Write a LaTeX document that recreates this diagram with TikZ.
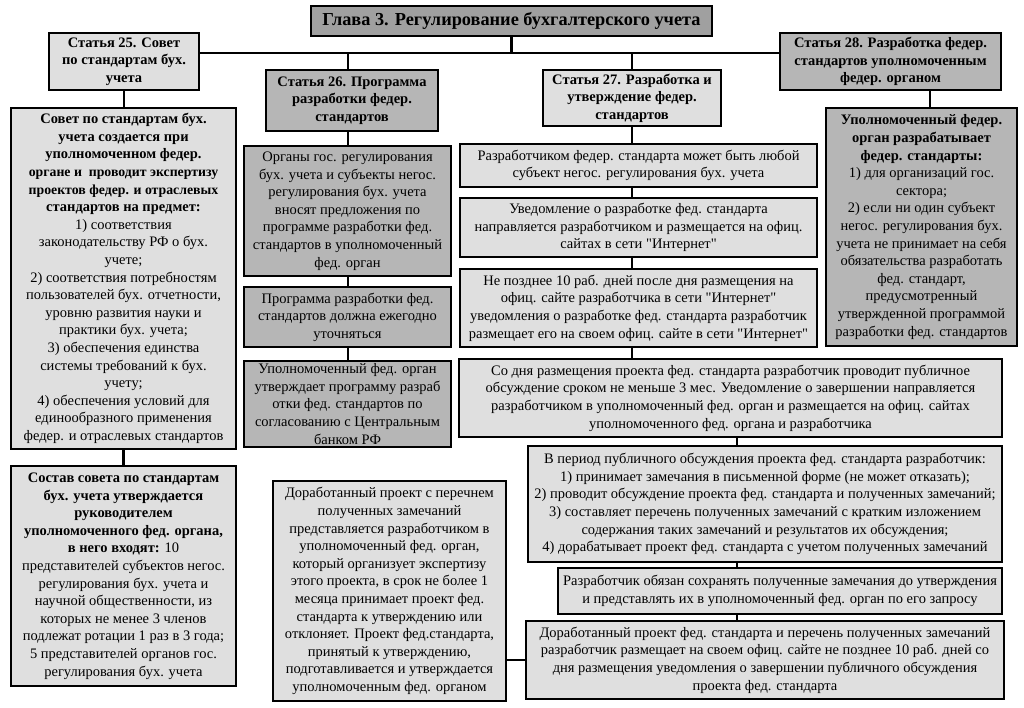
\documentclass[tikz,border=0pt]{standalone}
\usepackage{fontspec}
\setmainfont{Liberation Serif}[Ligatures=TeXOff]
\definecolor{lightg}{HTML}{DFDFDF}
\definecolor{darkg}{HTML}{B6B6B6}
\definecolor{titleg}{HTML}{A0A0A0}
\newcommand\nb[1]{{\fontsize{13.8}{17.6}\selectfont\textbf{#1}}}
\begin{document}
\begin{tikzpicture}[x=1pt,y=-1pt,
  bx/.style={draw=black, line width=2.6pt, align=center, inner sep=1pt, anchor=center,
             font=\fontsize{14.5}{17.6}\selectfont},
  lb/.style={bx, fill=lightg},
  db/.style={bx, fill=darkg},
  hd/.style={font=\fontsize{14.5}{17.5}\selectfont\bfseries},
  conn/.style={draw=black, line width=2.6pt}]
\useasboundingbox[fill=white] (0,0) rectangle (1024,708);

% headers
\node[bx, fill=titleg, minimum width=401pt, minimum height=30pt,
      font=\fontsize{18.3}{21}\selectfont\bfseries] (title) at (511.5,21)
  {Глава 3. Регулирование бухгалтерского учета};
\node[lb, hd, minimum width=150pt, minimum height=57pt] (s25) at (124,61.5)
  {Статья 25. Совет\\по стандартам бух.\\учета};
\node[db, hd, minimum width=172pt, minimum height=61pt] (s26) at (352,100.5)
  {Статья 26. Программа\\разработки федер.\\стандартов};
\node[lb, hd, minimum width=178pt, minimum height=56pt] (s27) at (632,98)
  {Статья 27. Разработка и\\утверждение федер.\\стандартов};
\node[db, hd, minimum width=221pt, minimum height=57pt] (s28) at (890.5,61.5)
  {Статья 28. Разработка федер.\\стандартов уполномоченным\\федер. органом};

% column 25
\node[lb, minimum width=225pt, minimum height=341pt] (a1) at (123.5,278.5)
  {\textbf{Совет по стандартам бух.}\\\textbf{учета создается при}\\\textbf{уполномоченном федер.}\\\nb{органе и\ \ проводит экспертизу}\\\nb{проектов федер. и отраслевых}\\\textbf{стандартов на предмет:}\\1) соответствия\\законодательству РФ о бух.\\учете;\\2) соответствия потребностям\\пользователей бух. отчетности,\\уровню развития науки и\\практики бух. учета;\\3) обеспечения единства\\системы требований к бух.\\учету;\\4) обеспечения условий для\\единообразного применения\\федер. и отраслевых стандартов};
\node[lb, minimum width=225pt, minimum height=220pt] (a2) at (123.5,576)
  {\textbf{Состав совета по стандартам}\\\textbf{бух. учета утверждается}\\\textbf{руководителем}\\\textbf{уполномоченного фед. органа,}\\\textbf{в него входят:} 10\\представителей субъектов негос.\\регулирования бух. учета и\\научной общественности, из\\которых не менее 3 членов\\подлежат ротации 1 раз в 3 года;\\5 представителей органов гос.\\регулирования бух. учета};

% column 26
\node[db, minimum width=207pt, minimum height=130pt] (b1) at (347.5,211)
  {Органы гос. регулирования\\бух. учета и субъекты негос.\\регулирования бух. учета\\вносят предложения по\\программе разработки фед.\\стандартов в уполномоченный\\фед. орган};
\node[db, minimum width=207pt, minimum height=60pt] (b2) at (347.5,317)
  {Программа разработки фед.\\стандартов должна ежегодно\\уточняться};
\node[db, minimum width=207pt, minimum height=86pt] (b3) at (347.5,404)
  {Уполномоченный фед. орган\\утверждает программу разраб\\отки фед. стандартов по\\согласованию с Центральным\\банком РФ};
\node[lb, minimum width=233pt, minimum height=220pt] (b4) at (389.5,591)
  {Доработанный проект с перечнем\\полученных замечаний\\представляется разработчиком в\\уполномоченный фед. орган,\\который организует экспертизу\\этого проекта, в срок не более 1\\месяца принимает проект фед.\\стандарта к утверждению или\\отклоняет. Проект фед.стандарта,\\принятый к утверждению,\\подготавливается и утверждается\\уполномоченным фед. органом};

% column 27
\node[lb, minimum width=357pt, minimum height=43pt] (c1) at (638.5,165.5)
  {Разработчиком федер. стандарта может быть любой\\субъект негос. регулирования бух. учета};
\node[lb, minimum width=357pt, minimum height=59pt] (c2) at (638.5,227.5)
  {Уведомление о разработке фед. стандарта\\направляется разработчиком и размещается на офиц.\\сайтах в сети "Интернет"};
\node[lb, minimum width=357pt, minimum height=78pt] (c3) at (638.5,308)
  {Не позднее 10 раб. дней после дня размещения на\\офиц. сайте разработчика в сети "Интернет"\\уведомления о разработке фед. стандарта разработчик\\размещает его на своем офиц. сайте в сети "Интернет"};
\node[lb, minimum width=543pt, minimum height=78pt] (c4) at (730.5,398)
  {Со дня размещения проекта фед. стандарта разработчик проводит публичное\\обсуждение сроком не меньше 3 мес. Уведомление о завершении направляется\\разработчиком в уполномоченный фед. орган и размещается на офиц. сайтах\\уполномоченного фед. органа и разработчика};
\node[lb, minimum width=474pt, minimum height=116pt] (c5) at (765,504)
  {В период публичного обсуждения проекта фед. стандарта разработчик:\\1) принимает замечания в письменной форме (не может отказать);\\2) проводит обсуждение проекта фед. стандарта и полученных замечаний;\\3) составляет перечень полученных замечаний с кратким изложением\\содержания таких замечаний и результатов их обсуждения;\\4) дорабатывает проект фед. стандарта с учетом полученных замечаний};
\node[lb, minimum width=444pt, minimum height=46pt] (c6) at (780,591)
  {Разработчик обязан сохранять полученные замечания до утверждения\\и представлять их в уполномоченный фед. орган по его запросу};
\node[lb, minimum width=478pt, minimum height=78pt] (c7) at (765,660)
  {Доработанный проект фед. стандарта и перечень полученных замечаний\\разработчик размещает на своем офиц. сайте не позднее 10 раб. дней со\\дня размещения уведомления о завершении публичного обсуждения\\проекта фед. стандарта};

% column 28
\node[db, minimum width=191pt, minimum height=238pt] (d1) at (921.5,227)
  {\textbf{Уполномоченный федер.}\\\textbf{орган разрабатывает}\\\textbf{федер. стандарты:}\\1) для организаций гос.\\сектора;\\2) если ни один субъект\\негос. регулирования бух.\\учета не принимает на себя\\обязательства разработать\\фед. стандарт,\\предусмотренный\\утвержденной программой\\разработки фед. стандартов};

% connectors
\coordinate (trunk) at (513,53);
\coordinate (x26) at (348,0);
\coordinate (x27) at (632,0);
\coordinate (x28) at (930,0);
\coordinate (x45) at (737,0);
\coordinate (yb4) at (0,660);
\draw[conn] (title.south) -- (title.south |- trunk);
\draw[conn] (s25.east |- trunk) -- (s28.west |- trunk);
\draw[conn] (s26.north -| x26) -- (trunk -| x26);
\draw[conn] (s27.north) -- (s27.north |- trunk);
\draw[conn] (s25.south) -- (a1.north -| s25.south);
\draw[conn] (a1.south) -- (a2.north);
\draw[conn] (s26.south -| x26) -- (b1.north -| x26);
\draw[conn] (b1.south -| x26) -- (b2.north -| x26);
\draw[conn] (b2.south -| x26) -- (b3.north -| x26);
\draw[conn] (s27.south) -- (c1.north -| s27.south);
\draw[conn] (c1.south -| x27) -- (c2.north -| x27);
\draw[conn] (c2.south -| x27) -- (c3.north -| x27);
\draw[conn] (c3.south -| x27) -- (c4.north -| x27);
\draw[conn] (c4.south -| x45) -- (c5.north -| x45);
\draw[conn] (c5.south -| x45) -- (c6.north -| x45);
\draw[conn] (c6.south -| x45) -- (c7.north -| x45);
\draw[conn] (b4.east |- yb4) -- (c7.west |- yb4);
\draw[conn] (s28.south -| x28) -- (d1.north -| x28);
\end{tikzpicture}
\end{document}
